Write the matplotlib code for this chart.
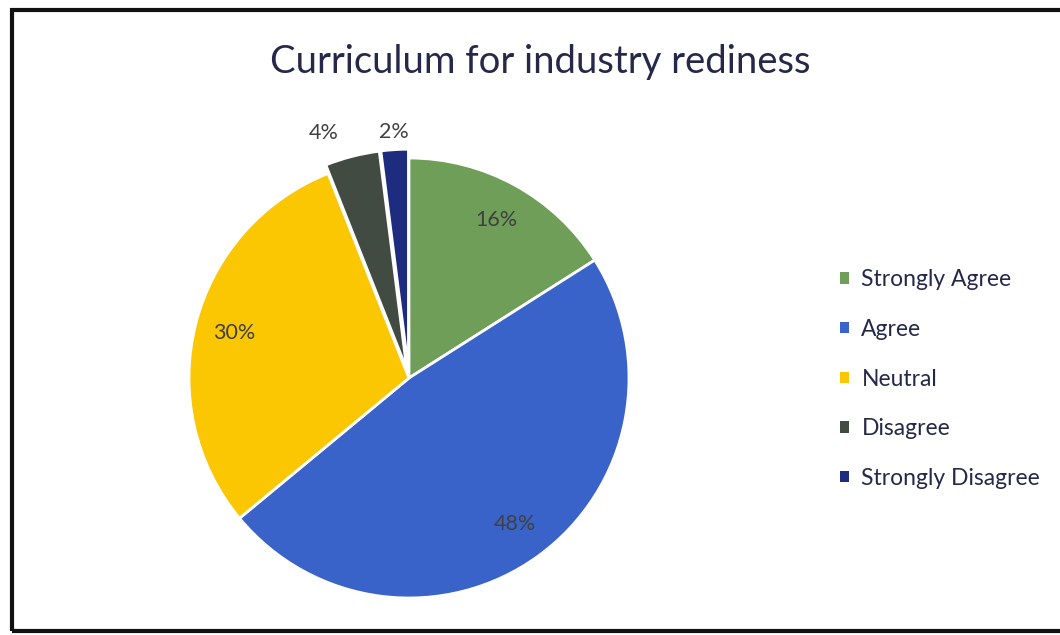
import numpy as np
import matplotlib
matplotlib.use('Agg')
import matplotlib.pyplot as plt
import matplotlib.patches as mpatches

plt.rcParams['font.family'] = ['Lato', 'DejaVu Sans']

categories = ['Strongly Agree', 'Agree', 'Neutral', 'Disagree', 'Strongly Disagree']
shares = [16, 48, 30, 4, 2]
colors = ['#6f9e58', '#3a63c9', '#fbc602', '#414b42', '#1d2c7e']
explode = [0, 0, 0, 0.04, 0.04]

W, H = 1060, 635
fig = plt.figure(figsize=(W / 100, H / 100), dpi=100)
fig.patch.set_facecolor('white')

# outer chart frame
fig.patches.append(mpatches.Rectangle((12 / W, 4 / H), 1.2, (H - 14) / H,
                                      transform=fig.transFigure, fill=False,
                                      edgecolor='#111111', linewidth=3))

cx, cy, r = 409, 378, 220
ax = fig.add_axes([(cx - r) / W, (H - cy - r) / H, 2 * r / W, 2 * r / H])
wedges, texts, autotexts = ax.pie(
    shares, colors=colors, startangle=90, counterclock=False, explode=explode,
    autopct='%d%%', pctdistance=0.82,
    wedgeprops=dict(edgecolor='white', linewidth=2),
    textprops=dict(color='#404040', fontsize=15.5))
ax.set_xlim(-1, 1)
ax.set_ylim(-1, 1)

# small slices get their labels outside the pie
for w, t, s in zip(wedges, autotexts, shares):
    if s < 10:
        ang = np.deg2rad((w.theta1 + w.theta2) / 2)
        dist = 1.15 if s > 3 else 1.12
        t.set_position((dist * np.cos(ang) - (0.1 if s > 3 else 0.0), dist * np.sin(ang)))

fig.text(540 / W, 1 - 62 / H, 'Curriculum for industry rediness', ha='center', va='center',
         fontsize=27.5, color='#26284a')

handles = [mpatches.Patch(facecolor=c, label=l) for c, l in zip(colors, categories)]
fig.legend(handles=handles, loc='center left', bbox_to_anchor=(819 / W, 1 - 379 / H),
           frameon=False, fontsize=16.5, labelcolor='#26284a', handlelength=0.4,
           handleheight=0.4, handletextpad=0.55, labelspacing=1.25)

plt.savefig('out.png', dpi=100, facecolor=fig.get_facecolor())
